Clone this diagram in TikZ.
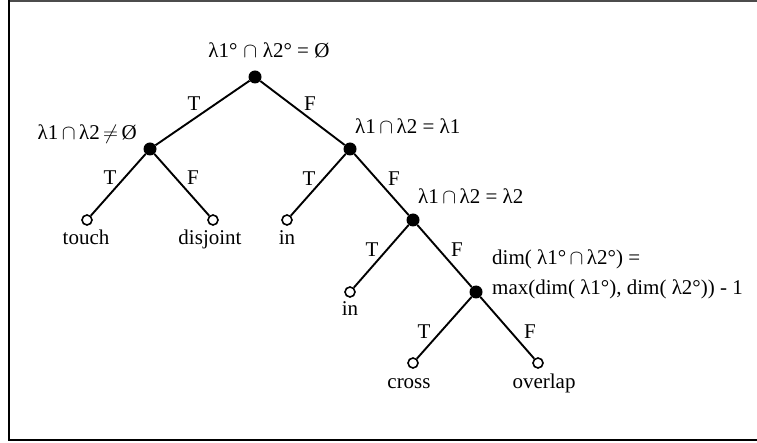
\documentclass[tikz,border=0pt]{standalone}
\usepackage{fontspec}
\setmainfont{Liberation Serif}
\begin{document}
\begin{tikzpicture}[x=1pt,y=-1pt,
  inner/.style={circle,fill=black,inner sep=0pt,minimum size=13pt},
  leaf/.style={circle,draw=black,line width=1.6pt,fill=white,inner sep=0pt,minimum size=10pt},
  edge/.style={line width=1.9pt},
  lab/.style={font=\fontsize{21}{25}\selectfont,inner sep=0pt},
  frame/.style={line width=2pt}]
\useasboundingbox (0,0) rectangle (757,443);
% frame
\draw[frame,draw=black!70] (9,1) -- (757,1);
\draw[frame] (9,0) -- (9,441);
\draw[frame] (9,440) -- (757,440);
% decision nodes
\node[inner] (r) at (255,77) {};
\node[inner] (a) at (150,149) {};
\node[inner] (b) at (350,149) {};
\node[inner] (c) at (413,220) {};
\node[inner] (d) at (476,292) {};
% leaves
\node[leaf] (l1) at (87,220) {};
\node[leaf] (l2) at (213,220) {};
\node[leaf] (l3) at (287,220) {};
\node[leaf] (l4) at (350,292) {};
\node[leaf] (l5) at (413,363) {};
\node[leaf] (l6) at (538,363) {};
% edges
\draw[edge] (r) -- (a);
\draw[edge] (r) -- (b);
\draw[edge] (a) -- (l1);
\draw[edge] (a) -- (l2);
\draw[edge] (b) -- (l3);
\draw[edge] (b) -- (c);
\draw[edge] (c) -- (l4);
\draw[edge] (c) -- (d);
\draw[edge] (d) -- (l5);
\draw[edge] (d) -- (l6);
% condition labels
\node[lab,anchor=base] (tr) at (269,58) {λ1°$\;\cap\;$λ2° = Ø};
\node[lab,anchor=base east] (ta) at (137,140) {λ1$\,\cap\,$λ2$\,\neq\,$Ø};
\node[lab,anchor=base west] (tb) at (355,134) {λ1$\,\cap\,$λ2 = λ1};
\node[lab,anchor=base west] (tc) at (418,204) {λ1$\,\cap\,$λ2 = λ2};
\node[lab,anchor=base west] (td1) at (492,265) {dim( λ1°$\,\cap\,$λ2°) =};
\node[lab,anchor=base west] (td2) at (492,295) {max(dim( λ1°), dim( λ2°)) - 1};
% leaf labels
\node[lab,anchor=base] (n1) at (86,245) {touch};
\node[lab,anchor=base] (n2) at (210,245) {disjoint};
\node[lab,anchor=base] (n3) at (287,245) {in};
\node[lab,anchor=base] (n4) at (350,316) {in};
\node[lab,anchor=base] (n5) at (409,388) {cross};
\node[lab,anchor=base] (n6) at (544,388) {overlap};
% edge labels
\node[lab] (e1) at (194,104) {T};
\node[lab] (e2) at (310,104) {F};
\node[lab] (e3) at (110,178) {T};
\node[lab] (e4) at (193,178) {F};
\node[lab] (e5) at (309,179) {T};
\node[lab] (e6) at (394,179) {F};
\node[lab] (e7) at (372,250) {T};
\node[lab] (e8) at (457,250) {F};
\node[lab] (e9) at (424,332) {T};
\node[lab] (e10) at (530,332) {F};
\end{tikzpicture}
\end{document}
